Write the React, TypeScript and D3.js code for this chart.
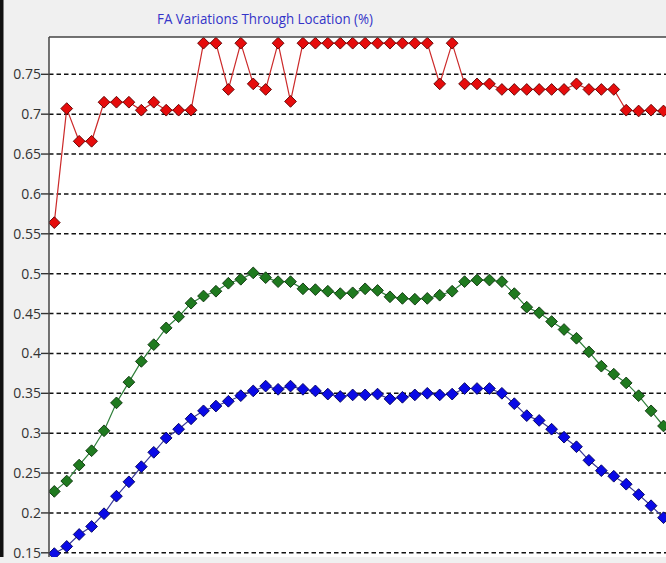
import React from "react";
import * as d3 from "d3";

const title = "FA Variations Through Location (%)";
const yTicks = [0.15, 0.2, 0.25, 0.3, 0.35, 0.4, 0.45, 0.5, 0.55, 0.6, 0.65, 0.7, 0.75];
const yTickLabels = ["0.15", "0.2", "0.25", "0.3", "0.35", "0.4", "0.45", "0.5", "0.55", "0.6", "0.65", "0.7", "0.75"];

const redValues = [
  0.564, 0.707, 0.666, 0.666, 0.715, 0.715, 0.715, 0.705, 0.715, 0.705,
  0.705, 0.705, 0.789, 0.789, 0.731, 0.789, 0.738, 0.731, 0.789, 0.716,
  0.789, 0.789, 0.789, 0.789, 0.789, 0.789, 0.789, 0.789, 0.789, 0.789,
  0.789, 0.738, 0.789, 0.738, 0.738, 0.738, 0.731, 0.731, 0.731, 0.731,
  0.731, 0.731, 0.738, 0.731, 0.731, 0.731, 0.705, 0.704, 0.705, 0.704,
];
const greenValues = [
  0.227, 0.240, 0.260, 0.278, 0.303, 0.338, 0.364, 0.390, 0.411, 0.432,
  0.446, 0.463, 0.472, 0.478, 0.488, 0.493, 0.501, 0.495, 0.490, 0.490,
  0.481, 0.480, 0.478, 0.475, 0.476, 0.481, 0.479, 0.471, 0.469, 0.468,
  0.469, 0.473, 0.478, 0.490, 0.492, 0.492, 0.490, 0.475, 0.458, 0.451,
  0.440, 0.430, 0.419, 0.402, 0.384, 0.374, 0.363, 0.347, 0.328, 0.309,
];
const blueValues = [
  0.149, 0.158, 0.173, 0.183, 0.199, 0.221, 0.239, 0.258, 0.276, 0.294,
  0.305, 0.318, 0.328, 0.334, 0.340, 0.347, 0.353, 0.359, 0.355, 0.359,
  0.355, 0.353, 0.349, 0.346, 0.348, 0.348, 0.349, 0.343, 0.345, 0.348,
  0.350, 0.348, 0.349, 0.356, 0.356, 0.356, 0.350, 0.337, 0.322, 0.316,
  0.305, 0.295, 0.283, 0.266, 0.253, 0.246, 0.236, 0.223, 0.209, 0.194,
];

const seriesList = [
  { name: "green", values: greenValues, fill: "#1f7a1f", stroke: "#0c330c", line: "#2f7f3a" },
  { name: "blue", values: blueValues, fill: "#0a0ae6", stroke: "#00005a", line: "#3a3a9a" },
  { name: "red", values: redValues, fill: "#e60c0c", stroke: "#5a0000", line: "#cc2a2a" },
];

const W = 666;
const H = 563;
const plotLeft = 49;
const plotTop = 37;
const plotBottom = 557;

export default function App() {
  const n = redValues.length;
  const x = d3.scaleLinear().domain([0, n - 1]).range([54.3, 663.5]);
  const y = d3.scaleLinear().domain([0.15, 0.75]).range([552.8, 74.3]);
  const line = d3
    .line<number>()
    .x((_, i) => x(i))
    .y((d) => y(d));
  const diamond = d3.symbol().type(d3.symbolDiamond2).size(88)();

  return (
    <div style={{ position: "fixed", left: 0, top: 0 }}>
      <svg width={W} height={H} style={{ display: "block" }}>
        <defs>
          <clipPath id="plotclip">
            <rect x={plotLeft} y={plotTop - 8} width={W - plotLeft} height={plotBottom - plotTop + 8} />
          </clipPath>
        </defs>
        <rect x={0} y={0} width={W} height={H} fill="#f0f0f0" />
        <rect x={0} y={0} width={3.5} height={plotBottom} fill="#111" />
        <rect x={plotLeft} y={plotTop} width={W - plotLeft} height={plotBottom - plotTop} fill="#ffffff" />
        <text
          x={265}
          y={24}
          textAnchor="middle"
          fontFamily="'Open Sans', 'Noto Sans', sans-serif"
          fontSize={14}
          fill="#3434c8"
          textLength={216}
          lengthAdjust="spacingAndGlyphs"
        >
          {title}
        </text>
        {yTicks.map((t, i) => (
          <g key={i}>
            <line
              x1={plotLeft}
              x2={W}
              y1={y(t)}
              y2={y(t)}
              stroke="#111"
              strokeWidth={1.4}
              strokeDasharray="4.5,3"
            />
            <line x1={plotLeft - 8} x2={plotLeft} y1={y(t)} y2={y(t)} stroke="#333" strokeWidth={1.4} />
            <text
              x={plotLeft - 8}
              y={y(t)}
              dy="0.36em"
              textAnchor="end"
              fontFamily="'Open Sans', 'Noto Sans', sans-serif"
              fontSize={14}
              fill="#333"
            >
              {yTickLabels[i]}
            </text>
          </g>
        ))}
        <g clipPath="url(#plotclip)">
          {seriesList.map((s) => (
            <g key={s.name}>
              <path d={line(s.values) || ""} fill="none" stroke={s.line} strokeWidth={1.2} />
              {s.values.map((v, i) => (
                <path
                  key={i}
                  d={diamond || ""}
                  transform={`translate(${x(i)},${y(v)})`}
                  fill={s.fill}
                  stroke={s.stroke}
                  strokeWidth={0.9}
                />
              ))}
            </g>
          ))}
        </g>
        <line x1={plotLeft} x2={W} y1={plotTop} y2={plotTop} stroke="#444" strokeWidth={1.5} />
        <line x1={plotLeft} x2={plotLeft} y1={plotTop} y2={plotBottom} stroke="#444" strokeWidth={1.5} />
      </svg>
    </div>
  );
}
